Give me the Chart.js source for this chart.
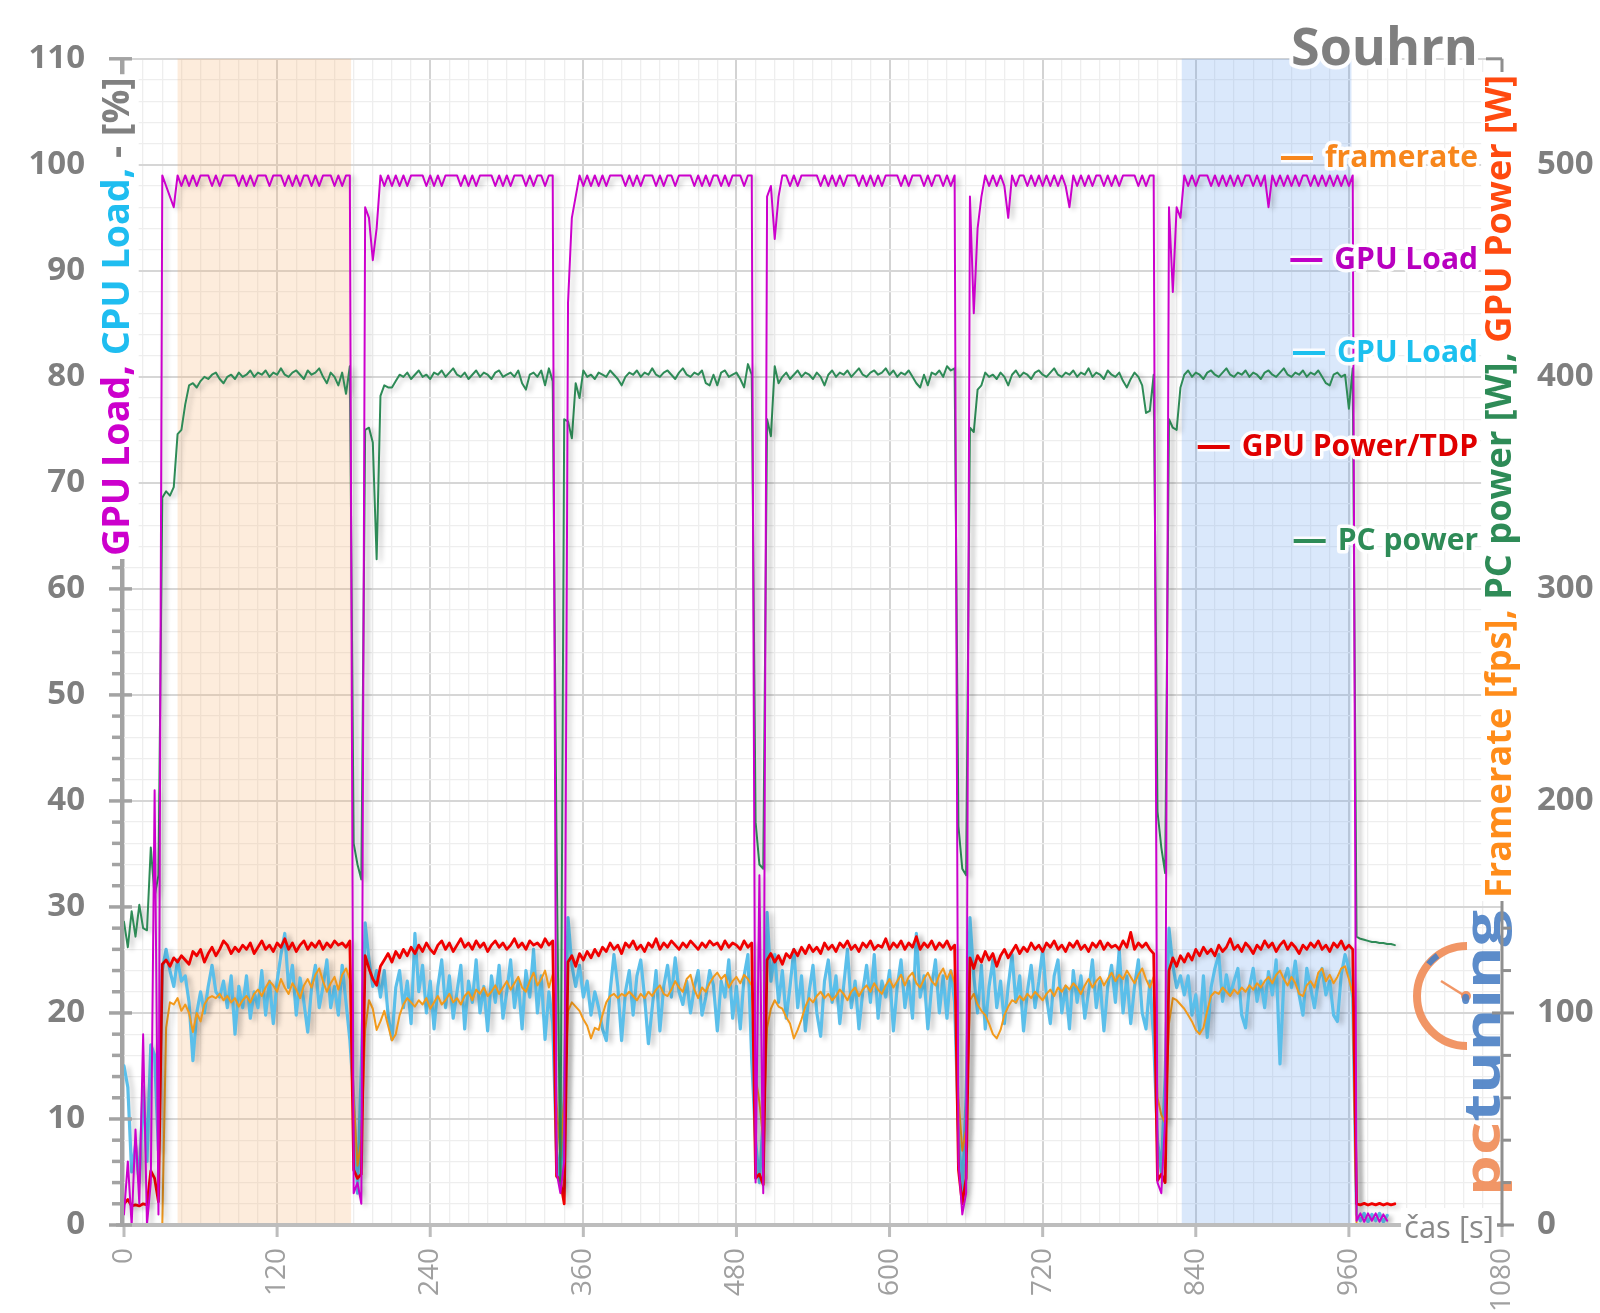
<!DOCTYPE html>
<html>
<head>
<meta charset="utf-8">
<title>Souhrn</title>
<script src="https://cdn.jsdelivr.net/npm/chart.js@4.4.1/dist/chart.umd.min.js"></script>
<style>
  html, body { margin: 0; padding: 0; background: #ffffff; }
  #wrap { width: 1600px; height: 1313px; }
</style>
</head>
<body>
<div id="wrap"><canvas id="chart" width="1600" height="1313"></canvas></div>
<script>
// ---------------- DATA ----------------
// sample times [s]
const timeSec = [
  0,3,6,9,12,15,18,21,24,27,30,33,36,39,42,45,48,51,54,57,
  60,63,66,69,72,75,78,81,84,87,90,93,96,99,102,105,108,111,114,117,
  120,123,126,129,132,135,138,141,144,147,150,153,156,159,162,165,168,171,174,177,
  180,183,186,189,192,195,198,201,204,207,210,213,216,219,222,225,228,231,234,237,
  240,243,246,249,252,255,258,261,264,267,270,273,276,279,282,285,288,291,294,297,
  300,303,306,309,312,315,318,321,324,327,330,333,336,339,342,345,348,351,354,357,
  360,363,366,369,372,375,378,381,384,387,390,393,396,399,402,405,408,411,414,417,
  420,423,426,429,432,435,438,441,444,447,450,453,456,459,462,465,468,471,474,477,
  480,483,486,489,492,495,498,501,504,507,510,513,516,519,522,525,528,531,534,537,
  540,543,546,549,552,555,558,561,564,567,570,573,576,579,582,585,588,591,594,597,
  600,603,606,609,612,615,618,621,624,627,630,633,636,639,642,645,648,651,654,657,
  660,663,666,669,672,675,678,681,684,687,690,693,696,699,702,705,708,711,714,717,
  720,723,726,729,732,735,738,741,744,747,750,753,756,759,762,765,768,771,774,777,
  780,783,786,789,792,795,798,801,804,807,810,813,816,819,822,825,828,831,834,837,
  840,843,846,849,852,855,858,861,864,867,870,873,876,879,882,885,888,891,894,897,
  900,903,906,909,912,915,918,921,924,927,930,933,936,939,942,945,948,951,954,957,
  960,963,966,969,972,975,978,981,984,987,990,993,996
];

const seriesNames = ['framerate', 'GPU Load', 'CPU Load', 'GPU Power/TDP', 'PC power'];

// GPU Load [%] (left axis)
const gpuLoad = [
  1,6,0,9,2,18,0,4,41,1,
  99,98,97,96,99,98,99,98,99,98, 99,99,99,98,99,98,99,99,99,99, 98,99,98,99,98,99,99,99,98,99, 99,99,98,99,98,99,98,99,99,98, 99,98,99,99,99,98,99,98,99,99,
  3,4,2,
  96,95,91,94,99,98,99,98,99,98, 99,98,99,99,99,99,98,99,98,99, 98,99,99,99,99,98,99,98,99,98, 99,99,99,99,98,99,98,99,98,99, 99,99,98,99,98,99,99,98,99,99,
  5,3,6,
  87,95,97,99,98,99,98,99,98,99, 98,99,99,99,99,98,99,98,99,98, 99,99,99,98,99,98,99,99,98,99, 99,99,99,98,99,98,99,98,99,99, 98,99,98,99,99,99,98,99,99,
  4,33,3,
  97,98,93,97,99,99,98,99,98,99, 99,99,99,99,98,99,98,99,98,99, 98,99,99,99,98,99,98,99,98,99, 98,99,99,99,99,98,99,98,99,99, 99,98,99,98,99,99,98,99,98,99,
  6,1,3,
  97,86,94,97,99,98,99,98,99,98, 95,99,98,99,99,98,99,98,99,98, 99,98,99,98,99,98,96,99,98,99, 98,99,98,99,99,98,99,98,99,98, 99,99,99,99,98,99,98,99,99,
  4,3,10,
  96,88,96,95,99,98,99,98,99,99, 99,98,99,98,99,98,99,98,99,98, 99,99,98,99,98,99,96,99,98,99, 98,99,98,99,98,99,99,98,99,98, 99,98,99,98,99,98,99,98,99,
  0.4,1.1,0.3,1.1,0.4,1.1,0.3,1.0,0.4
];

// CPU Load [%] (left axis)
const cpuLoad = [
  15,13,5,7.5,4,13,6,17,16,7,
  24,26,24,22.5,25,23,23.5,21,15.5,20, 22,20,22.5,24.5,22,21.5,23,20.5,23.5,18, 22.5,20.5,23.5,19.5,22,20.5,24,19.8,23,19, 23,25.5,27.5,22.4,24.5,19.8,23.3,21,18.2,22.4, 24.5,20.5,22.5,25,20.5,22.5,19.8,24.5,21,17.5,
  12,3,15,
  28.5,25,22.5,24,21.5,24,19.8,17.5,22.4,24, 20.5,23,19,27.5,22,24.5,20,23,18.5,22.5, 25,20.5,23.5,19.5,22,24.5,18.5,23,21,25, 20,22.5,18.3,23.5,21,24.5,19.5,22,25,20.5, 23,18.5,24,21.5,26,20,23.5,17.5,22,19,
  7,4,12,
  29,24.5,22.5,24.5,21.5,23,19.8,22,20.5,18.5, 17.4,22,25.5,22.5,17.4,22,24,19.8,23.5,25, 21.5,17.1,20.5,24,18.3,22.5,24.5,21.5,25.2,22, 20.8,23,20,22.4,24,19.8,21.5,24,22.6,18.3, 23,21.5,25,19.5,22.5,18.5,23.5,25.5,15.5,
  8,4,10,
  29.5,23,25.5,21,24,19.5,22.5,26,20.5,23.5, 18.3,22,24.5,20,17.8,23,25,21,23.5,19, 22.5,26,20.5,23,18.5,22,24.5,21,25.5,19.5, 23,21.5,24,18.3,22.5,25,20.5,23,19.5,27.5, 21.5,23.5,18.5,22.5,25,20,23.5,19.5,24,21,
  9,3,12,
  29,23.5,20,24.5,18.5,22.5,25,20.5,23,19, 22.5,25.5,21,23.5,18.3,22,24.5,20.5,23,26, 21.5,19,23.5,25,20,22.5,18.5,24,21,23.5, 19.5,22,25,20.5,23,18.3,22.5,24.5,21,26, 20,23.5,19,22.5,25,20,18.5,23,17.5,
  8,5,14,
  28,24.5,22.4,23.5,21.7,23.5,19.8,21.7,18.3,23.5, 17.7,22.4,24.2,25.5,21.1,23.6,21.7,23,24.2,19.8, 18.6,22.4,24.2,21.1,23,20.5,23.9,21.7,25,15.2, 23,24.2,22.4,24.9,21.7,19.8,24.2,22.4,20.5,23, 24.2,21.7,23,19.8,19.2,23.6,25.5,24.2,21.4,
  1.0,0.4,1.1,0.3,1.0,0.4,1.1,0.3,0.9
];

// framerate [fps] (right axis)
const framerate = [
  0,0,0,0,0,0,0,0,0,0,
  0,93,105,104,107,101,104,100,91,100, 96,104,107,108,107,109,106,108,105,107, 103,106,108,105,109,111,108,112,115,113, 110,116,112,109,114,111,107,113,116,112, 118,121,115,110,114,117,111,118,121,116,
  60,28,40,
  92,106,102,92,96,101,94,87,90,99, 104,107,105,103,106,104,107,102,105,108, 104,106,109,105,107,104,108,110,106,111, 109,112,108,110,113,109,112,115,111,114, 117,112,110,115,119,113,116,120,112,118,
  58,32,60,
  101,105,103,101,97,94,88,93,92,99, 105,108,109,107,109,108,110,108,106,109, 107,110,108,111,113,109,108,111,115,112, 110,116,118,111,107,112,110,114,117,119, 116,118,112,115,117,114,118,116,113,
  70,58,40,
  93,102,106,103,102,98,95,88,92,97, 103,107,105,108,110,107,109,106,108,111, 109,106,110,112,108,111,113,110,114,111, 109,113,116,112,115,118,113,117,119,114, 112,116,119,115,113,118,121,116,120,114,
  60,35,45,
  106,109,104,101,99,95,90,88,92,99, 103,106,105,108,106,109,107,110,108,106, 109,111,108,112,110,113,111,114,112,109, 113,116,112,115,117,113,116,119,115,118, 116,120,117,114,118,121,116,112,117,
  60,52,48,
  95,107,106,104,102,99,96,92,90,93, 101,108,110,109,112,110,108,111,109,112, 110,113,111,114,112,115,117,114,118,120, 116,113,117,114,109,108,113,115,112,119, 121,115,118,114,117,121,122,116,109,
  0,0,0,0,0,0,0,0,0
];

// GPU power [W] (right axis)
const gpuPower = [
  10,12,9,9.5,9,10,9.5,25.5,22,11,
  123,125,122,126,124,127,125,123,129,127, 130,124,128,131,127,130,134,132,128,131, 129,132,130,133,128,131,134,130,132,129, 133,131,135,130,133,129,132,134,130,133, 131,134,130,133,131,134,132,133,131,134,
  26,22,24,
  127,121,116,113,122,125,128,124,129,126, 130,127,131,128,132,129,133,130,128,132, 134,130,133,129,132,135,131,133,130,134, 131,133,129,132,134,131,133,130,132,135, 131,133,130,134,132,133,131,135,132,134,
  23,21,10,
  124,127,122,128,125,129,126,130,127,131, 129,133,130,132,128,133,131,134,130,132, 129,133,131,135,130,133,131,134,132,130, 133,131,134,132,130,133,131,134,132,133, 130,134,131,133,132,130,134,131,133,
  22,24,19,
  125,128,124,127,123,128,126,130,127,131, 128,132,129,131,128,133,130,132,129,133, 131,134,130,132,129,133,131,134,130,132, 131,135,130,133,131,134,130,133,131,136, 130,133,131,134,130,133,131,134,130,132,
  26,10,22,
  126,121,127,124,129,125,128,122,127,130, 126,129,132,128,131,129,133,130,132,129, 133,131,134,130,132,129,133,131,134,130, 132,129,133,131,134,130,133,131,132,130, 134,131,138,130,133,131,133,130,128,
  21,24,20,
  120,126,122,127,124,128,125,130,127,131, 128,130,127,132,129,131,135,130,132,129, 133,131,128,132,130,134,131,133,129,132, 134,130,133,131,128,132,130,133,131,134, 130,132,129,133,131,134,130,132,130,
  10,9.5,10.2,9.4,10.1,9.5,10.2,9.4,10.1,9.5,10
];

// PC power [W] (right axis)
const pcPower = [
  143,131,148,136,151,140,139,178,155,165,
  343,346,344,348,373,375,387,396,397,395, 398,400,399,401,402,399,397,400,401,399, 402,400,401,403,400,402,401,403,400,402, 401,404,401,400,402,403,401,399,403,401, 402,404,400,397,402,400,396,402,392,405,
  180,170,163,
  375,376,369,314,391,396,395,395,398,401, 400,402,399,401,403,400,401,399,402,401, 403,400,402,404,401,400,402,399,401,403, 400,402,401,399,402,403,400,401,402,400, 403,397,394,401,402,400,403,396,404,398,
  180,18,380,
  379,371,397,390,403,400,401,399,402,401, 400,403,401,399,396,400,402,401,403,400, 402,401,404,401,400,402,403,401,399,402, 404,401,400,402,401,403,397,396,401,396, 402,403,400,401,402,399,395,406,401,
  190,170,168,
  380,372,405,397,400,402,399,401,403,400, 402,401,399,402,400,396,401,403,400,402, 401,403,400,402,404,401,400,402,403,401, 402,404,401,403,400,402,401,403,400,397, 395,401,396,402,401,403,400,405,403,404,
  188,168,165,
  376,374,394,396,402,400,401,399,402,400, 396,401,403,400,402,401,399,402,403,401, 400,402,404,401,400,402,401,403,400,402, 401,404,400,402,401,399,403,401,400,402, 398,395,399,402,400,396,383,384,401,
  195,178,166,
  380,376,375,395,401,403,400,402,401,399, 402,403,401,400,402,404,401,400,402,401, 403,400,402,401,399,402,403,401,400,402, 404,401,400,402,401,403,400,402,401,403, 400,397,396,401,402,400,401,385,404,
  136,135,134.5,134,133.5,133.5,133,133,132.5,132.5,132
];

// highlighted time ranges [s]
const bandStart = [42, 829];
const bandEnd = [178, 962];

// axis tick settings
const xMax = 1080, xMajorStep = 120, xMinorStep = 15;
const yMax = 110, yMajorStep = 10, yMinorStep = 2;
const y2Max = 550, y2MajorStep = 100, y2MinorStep = 20;

// ---------------- STYLE ----------------
const FONT = '"Open Sans", "DejaVu Sans", sans-serif';
const C = {
  magenta: '#cc00cc',
  cyan: '#5bbfea',
  red: '#f00000',
  green: '#2e8b57',
  orange: '#f29a1c',
  grayText: '#7f7f7f'
};
const bandColors = ['rgba(247,180,120,0.26)', 'rgba(100,160,240,0.24)'];

function haloFill(ctx, text, x, y, color, w) {
  ctx.lineJoin = 'round';
  ctx.strokeStyle = 'rgba(255,255,255,0.95)';
  ctx.lineWidth = w || 6;
  ctx.strokeText(text, x, y);
  ctx.fillStyle = color;
  ctx.fillText(text, x, y);
}

function drawRotatedMulti(ctx, parts, cx, yStart, targetLen, baseSize) {
  ctx.save();
  ctx.font = 'bold ' + baseSize + 'px ' + FONT;
  let total = 0;
  parts.forEach(p => total += ctx.measureText(p.text).width);
  const size = baseSize * targetLen / total;
  ctx.font = 'bold ' + size.toFixed(2) + 'px ' + FONT;
  ctx.translate(cx, yStart);
  ctx.rotate(-Math.PI / 2);
  ctx.textBaseline = 'middle';
  ctx.textAlign = 'left';
  let pos = 0;
  const xs = parts.map(p => { const s = pos; pos += ctx.measureText(p.text).width; return s; });
  ctx.fillStyle = '#ffffff';
  ctx.fillRect(-3, -size * 0.55, pos + 6, size * 1.1);
  ctx.lineJoin = 'round';
  ctx.strokeStyle = 'rgba(255,255,255,0.95)';
  ctx.lineWidth = 6;
  parts.forEach((p, i) => ctx.strokeText(p.text, xs[i], 0));
  parts.forEach((p, i) => { ctx.fillStyle = p.color; ctx.fillText(p.text, xs[i], 0); });
  ctx.restore();
}

const bandsPlugin = {
  id: 'bands',
  beforeDatasetsDraw(chart) {
    const { ctx, chartArea: a, scales: { x } } = chart;
    ctx.save();
    for (let i = 0; i < bandStart.length; i++) {
      const x0 = x.getPixelForValue(bandStart[i]);
      const x1 = x.getPixelForValue(bandEnd[i]);
      ctx.fillStyle = bandColors[i];
      ctx.fillRect(x0, a.top, x1 - x0, a.bottom - a.top);
    }
    ctx.restore();
  }
};

const shadowPlugin = {
  id: 'lineShadow',
  beforeDatasetDraw(chart) {
    const ctx = chart.ctx;
    ctx.save();
    ctx.shadowColor = 'rgba(0,0,0,0.22)';
    ctx.shadowBlur = 5;
    ctx.shadowOffsetX = 4;
    ctx.shadowOffsetY = 2;
  },
  afterDatasetDraw(chart) { chart.ctx.restore(); }
};

function drawLogo(ctx) {
  ctx.save();
  ctx.globalAlpha = 0.9;
  ctx.strokeStyle = '#f08b55';
  ctx.lineWidth = 8;
  ctx.beginPath();
  ctx.arc(1467, 996, 50, Math.PI * 0.5, Math.PI * 1.5, false);
  ctx.stroke();
  ctx.strokeStyle = '#4a80c4';
  ctx.lineWidth = 6;
  ctx.beginPath();
  ctx.arc(1467, 996, 50, Math.PI * 1.22, Math.PI * 1.3, false);
  ctx.stroke();
  ctx.strokeStyle = '#f08b55';
  ctx.lineWidth = 2.5;
  ctx.beginPath(); ctx.moveTo(1441, 981); ctx.lineTo(1465, 996); ctx.stroke();
  ctx.fillStyle = '#f08b55';
  ctx.beginPath(); ctx.arc(1466, 996, 5, 0, Math.PI * 2); ctx.fill();
  ctx.translate(1500, 1196);
  ctx.rotate(-Math.PI / 2);
  ctx.font = 'bold 50px ' + FONT;
  ctx.textBaseline = 'alphabetic';
  ctx.textAlign = 'left';
  const w1 = ctx.measureText('pc').width;
  const w2 = ctx.measureText('tuning').width;
  const k = 286 / (w1 + w2);
  ctx.scale(k, 1);
  ctx.fillStyle = '#f08b55';
  ctx.fillText('pc', 0, 0);
  ctx.fillStyle = '#4a80c4';
  ctx.fillText('tuning', w1, 0);
  ctx.restore();
}

function drawAxes(chart) {
  const { ctx, chartArea: a, scales: { x, y, y2 } } = chart;
  ctx.save();
  ctx.lineCap = 'butt';
  ctx.strokeStyle = '#bdbdbd';
  ctx.lineWidth = 4;
  ctx.beginPath(); ctx.moveTo(a.left - 8, a.bottom); ctx.lineTo(a.right, a.bottom); ctx.stroke();
  ctx.lineWidth = 3;
  for (let v = 0; v <= xMax; v += xMajorStep) {
    const px = x.getPixelForValue(v);
    ctx.beginPath(); ctx.moveTo(px, a.bottom); ctx.lineTo(px, a.bottom + 12); ctx.stroke();
  }
  const lx = a.left - 2;
  ctx.strokeStyle = '#a3a3a3';
  ctx.lineWidth = 4;
  ctx.beginPath(); ctx.moveTo(lx, y.getPixelForValue(yMax)); ctx.lineTo(lx, y.getPixelForValue(0) + 2); ctx.stroke();
  ctx.lineWidth = 3.5;
  for (let v = 0; v <= yMax; v += yMinorStep) {
    const py = y.getPixelForValue(v);
    const major = v % yMajorStep === 0;
    ctx.beginPath();
    ctx.moveTo(lx - (major ? 13 : 10), py);
    ctx.lineTo(major ? lx + 10 : lx, py);
    ctx.stroke();
  }
  const rx = a.right;
  ctx.strokeStyle = '#8f8f8f';
  ctx.lineWidth = 3;
  ctx.beginPath(); ctx.moveTo(rx, y2.getPixelForValue(y2Max)); ctx.lineTo(rx, y2.getPixelForValue(0) + 2); ctx.stroke();
  for (let v = 0; v <= y2Max; v += y2MinorStep) {
    const py = y2.getPixelForValue(v);
    const major = v % y2MajorStep === 0;
    ctx.beginPath();
    ctx.moveTo(major ? rx - 10 : rx, py);
    ctx.lineTo(rx + (major ? 12 : 9), py);
    ctx.stroke();
  }
  const pTop = y2.getPixelForValue(y2Max);
  ctx.beginPath(); ctx.moveTo(rx - 16, pTop); ctx.lineTo(rx, pTop); ctx.stroke();
  ctx.restore();
}

const decorPlugin = {
  id: 'decor',
  afterDatasetsDraw(chart) {
    drawLogo(chart.ctx);
    drawAxes(chart);
  },
  afterDraw(chart) {
    const ctx = chart.ctx;
    drawRotatedMulti(ctx, [
      { text: 'GPU Load, ', color: C.magenta },
      { text: 'CPU Load, ', color: '#1fbdf0' },
      { text: '- [%]', color: '#808080' }
    ], 118, 556, 479, 38);
    drawRotatedMulti(ctx, [
      { text: 'Framerate [fps], ', color: '#ff8c1a' },
      { text: 'PC power [W], ', color: C.green },
      { text: 'GPU Power [W]', color: '#ff4a10' }
    ], 1501, 898, 823, 37);

    ctx.save();
    ctx.font = 'bold 52px ' + FONT;
    ctx.textAlign = 'right';
    ctx.textBaseline = 'alphabetic';
    haloFill(ctx, 'Souhrn', 1478, 65, '#7f7f7f', 8);

    const legendColors = ['#f7861c', '#b800bf', '#1cc0ef', '#e00000', '#2e8b57'];
    const lineColors = ['#f7861c', '#c000c8', '#1cc0ef', '#e00000', '#2e8b57'];
    const legendY = [158, 260, 353, 447, 541];
    ctx.font = 'bold 30px ' + FONT;
    ctx.textBaseline = 'middle';
    for (let i = 0; i < seriesNames.length; i++) {
      const w = ctx.measureText(seriesNames[i]).width;
      const x0 = 1478 - w;
      ctx.strokeStyle = 'rgba(255,255,255,0.9)';
      ctx.lineWidth = 9;
      ctx.beginPath(); ctx.moveTo(x0 - 44, legendY[i]); ctx.lineTo(x0 - 12, legendY[i]); ctx.stroke();
      ctx.strokeStyle = lineColors[i];
      ctx.lineWidth = 4;
      ctx.beginPath(); ctx.moveTo(x0 - 44, legendY[i]); ctx.lineTo(x0 - 12, legendY[i]); ctx.stroke();
      haloFill(ctx, seriesNames[i], 1478, legendY[i], legendColors[i], 7);
    }

    // x axis title with white backing
    ctx.font = '31px ' + FONT;
    ctx.textBaseline = 'alphabetic';
    ctx.textAlign = 'right';
    const tw = ctx.measureText('čas [s]').width;
    ctx.fillStyle = '#ffffff';
    ctx.fillRect(1494 - tw - 3, 1208, tw + 6, 38);
    haloFill(ctx, 'čas [s]', 1494, 1238, '#8a8a8a', 5);
    ctx.restore();
  }
};

// ---------------- CHART ----------------
const ds = (label, data, color, width, axis, order) => ({
  label, data, borderColor: color, backgroundColor: color, borderWidth: width,
  yAxisID: axis, order, pointRadius: 0, tension: 0, fill: false,
  borderJoinStyle: 'round', borderCapStyle: 'round'
});

new Chart(document.getElementById('chart'), {
  type: 'line',
  data: {
    labels: timeSec,
    datasets: [
      ds(seriesNames[0], framerate, C.orange, 2, 'y2', 4),
      ds(seriesNames[1], gpuLoad, C.magenta, 2, 'y', 1),
      ds(seriesNames[2], cpuLoad, C.cyan, 3.2, 'y', 5),
      ds(seriesNames[3], gpuPower, C.red, 2.8, 'y2', 3),
      ds(seriesNames[4], pcPower, C.green, 2, 'y2', 2)
    ]
  },
  options: {
    responsive: false,
    animation: false,
    devicePixelRatio: 1,
    events: [],
    layout: { padding: { top: 53, left: 0, right: 0, bottom: 0 } },
    plugins: { legend: { display: false }, tooltip: { enabled: false }, title: { display: false } },
    scales: {
      x: {
        type: 'linear', min: 0, max: xMax,
        afterFit: s => { s.height = 88; },
        border: { display: false },
        grid: {
          drawTicks: false,
          color: c => (c.tick && c.tick.value % xMajorStep === 0) ? '#d3d3d3' : '#eeeeee',
          lineWidth: c => (c.tick && c.tick.value % xMajorStep === 0) ? 2 : 1.3
        },
        ticks: {
          stepSize: xMinorStep, autoSkip: false, minRotation: 90, maxRotation: 90, padding: 23,
          color: '#a0a0a0', font: { family: FONT, size: 28 },
          callback: v => (v % xMajorStep === 0) ? String(v) : ''
        }
      },
      y: {
        position: 'left', min: 0, max: yMax,
        afterFit: s => { s.width = 124; },
        border: { display: false },
        grid: {
          drawTicks: false,
          color: c => (c.tick && c.tick.value % yMajorStep === 0) ? '#d6d6d6' : '#eeeeee',
          lineWidth: c => (c.tick && c.tick.value % yMajorStep === 0) ? 2 : 1.3
        },
        ticks: {
          stepSize: yMinorStep, autoSkip: false, padding: 39,
          color: C.grayText, font: { family: FONT, size: 33, weight: 'bold' },
          callback: v => (v % yMajorStep === 0) ? String(v) : ''
        }
      },
      y2: {
        position: 'right', min: 0, max: y2Max,
        afterFit: s => { s.width = 98; },
        border: { display: false },
        grid: { display: false, drawTicks: false },
        ticks: {
          stepSize: y2MajorStep, autoSkip: false, padding: 35,
          color: C.grayText, font: { family: FONT, size: 33, weight: 'bold' },
          callback: v => (v % y2MajorStep === 0 && v <= 500) ? String(v) : ''
        }
      }
    }
  },
  plugins: [bandsPlugin, shadowPlugin, decorPlugin]
});
</script>
</body>
</html>
